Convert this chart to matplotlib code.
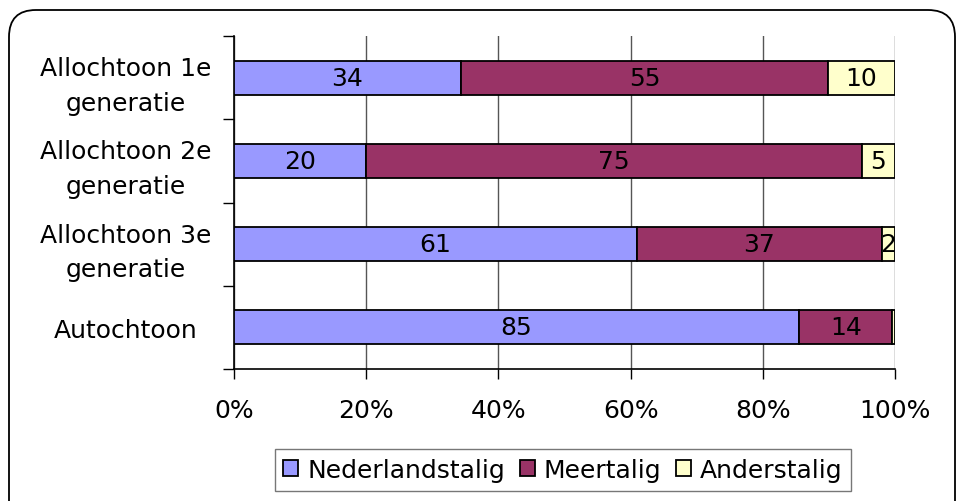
import numpy as np
import matplotlib.pyplot as plt
from matplotlib.patches import FancyBboxPatch

groups = ["Allochtoon 1e\ngeneratie", "Allochtoon 2e\ngeneratie",
          "Allochtoon 3e\ngeneratie", "Autochtoon"]
nederlandstalig = [34, 20, 61, 85]
meertalig = [55, 75, 37, 14]
anderstalig = [10, 5, 2, 0.4]
series_names = ["Nederlandstalig", "Meertalig", "Anderstalig"]
colors = ["#9999FF", "#993366", "#FFFFCC"]
show_label = [[True] * 4, [True] * 4, [True, True, True, False]]

plt.rcParams['font.family'] = ['DejaVu Sans']
fs = 18

fig = plt.figure(figsize=(9.61, 5.02), dpi=100)
ax = fig.add_axes([234 / 961, 1 - 370 / 502, (895 - 234) / 961, (370 - 37) / 502])

# rounded chart border
border = FancyBboxPatch((9 / 961, -0.2), 946 / 961, 1.2 - 11 / 502,
                        boxstyle="round,pad=0,rounding_size=0.028",
                        transform=fig.transFigure, fill=False,
                        edgecolor="black", linewidth=1.3,
                        mutation_aspect=961 / 502)
fig.patches.append(border)

data = np.array([nederlandstalig, meertalig, anderstalig], dtype=float)
pct = data / data.sum(axis=0) * 100
y = np.arange(len(groups))[::-1]

left = np.zeros(len(groups))
for i, name in enumerate(series_names):
    ax.barh(y, pct[i], left=left, height=0.41, color=colors[i],
            edgecolor="black", linewidth=1.3, label=name, zorder=3)
    for j in range(len(groups)):
        if show_label[i][j]:
            ax.text(left[j] + pct[i][j] / 2, y[j], str(int(data[i][j])),
                    ha="center", va="center", fontsize=fs, color="black", zorder=4)
    left += pct[i]

ax.set_xlim(0, 100)
ax.set_ylim(-0.5, len(groups) - 0.5)
ax.set_xticks(np.arange(0, 101, 20))
ax.set_xticklabels([f"{v}%" for v in range(0, 101, 20)], fontsize=fs)
ax.set_yticks(y)
ax.set_yticklabels(groups, fontsize=fs, ha="center", linespacing=1.55)
ax.tick_params(axis="y", length=0, pad=78)
ax.tick_params(axis="x", length=7, width=1, pad=14, direction="out")

# category separators on the value axis
ax.set_yticks(np.arange(-0.5, len(groups), 1), minor=True)
ax.tick_params(axis="y", which="minor", length=8, width=1)

ax.xaxis.grid(True, color="#555555", linewidth=1, zorder=0)
ax.set_axisbelow(True)
for side in ["top", "right"]:
    ax.spines[side].set_visible(False)
ax.spines["left"].set_linewidth(1.2)
ax.spines["bottom"].set_linewidth(1.2)

leg = fig.legend(loc="center", bbox_to_anchor=(563 / 961, 1 - 471 / 502), ncol=3,
                 fontsize=fs, frameon=True, fancybox=False, edgecolor="#555555",
                 handlelength=0.6, handleheight=0.6, handletextpad=0.35,
                 columnspacing=0.6, borderpad=0.35, borderaxespad=0)
leg.get_frame().set_linewidth(1)

fig.savefig("out.png", dpi=100)
